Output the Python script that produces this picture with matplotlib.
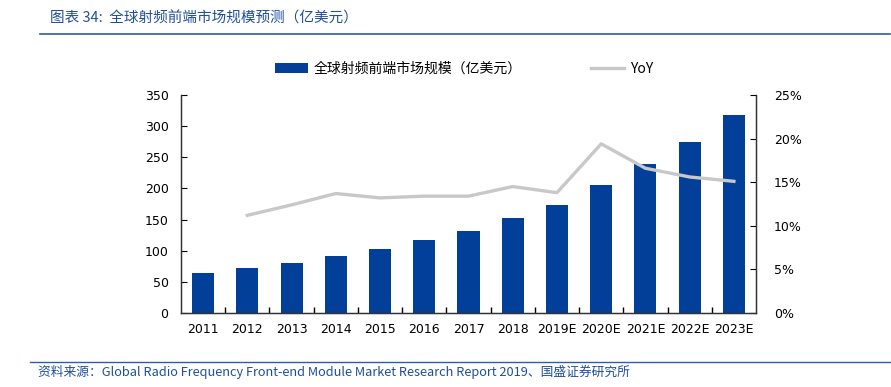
import matplotlib
matplotlib.use("Agg")
import matplotlib.pyplot as plt
from matplotlib.patches import Patch
from matplotlib.lines import Line2D
from matplotlib.ticker import FuncFormatter, MultipleLocator

plt.rcParams['font.family'] = ['DejaVu Sans', 'Noto Sans CJK SC']

years = ['2011', '2012', '2013', '2014', '2015', '2016', '2017', '2018',
         '2019E', '2020E', '2021E', '2022E', '2023E']
market = [65, 72.5, 80.5, 92, 103, 117, 132, 152, 173, 205.5, 239, 275, 318]
yoy = [None, 11.2, 12.4, 13.7, 13.2, 13.4, 13.4, 14.5, 13.8, 19.4, 16.6, 15.6, 15.1]

title = '图表 34:  全球射频前端市场规模预测（亿美元）'
source = '资料来源：Global Radio Frequency Front-end Module Market Research Report 2019、国盛证券研究所'
bar_label = '全球射频前端市场规模（亿美元）'
line_label = 'YoY'

W, H = 891, 387
fig = plt.figure(figsize=(W / 100, H / 100), dpi=100)

ax_l, ax_r, ax_t, ax_b = 181, 756, 95, 313
ax = fig.add_axes([ax_l / W, 1 - ax_b / H, (ax_r - ax_l) / W, (ax_b - ax_t) / H])

x = list(range(len(years)))
bar_color = '#023F98'
ax.bar(x, market, width=0.5, color=bar_color, zorder=2)
ax.set_xlim(-0.5, len(years) - 0.5)
ax.set_ylim(0, 350)
ax.yaxis.set_major_locator(MultipleLocator(50))
ax.set_xticks(x)
ax.set_xticklabels(years)
ax.set_xticks([i + 0.5 for i in x[:-1]], minor=True)
ax.tick_params(axis='x', which='major', length=0, pad=7, labelsize=9)
ax.tick_params(axis='x', which='minor', length=4, direction='in', width=1)
ax.tick_params(axis='y', length=4, direction='in', labelsize=9, pad=9)
ax.spines['top'].set_visible(False)
for s in ['left', 'right', 'bottom']:
    ax.spines[s].set_color('#333333')
    ax.spines[s].set_linewidth(1.0)

ax2 = ax.twinx()
xs = [i for i, v in zip(x, yoy) if v is not None]
ys = [v for v in yoy if v is not None]
ax2.plot(xs, ys, color='#C8C8C8', linewidth=2.4, zorder=3)
ax2.set_ylim(0, 25)
ax2.yaxis.set_major_locator(MultipleLocator(5))
ax2.yaxis.set_major_formatter(FuncFormatter(lambda v, p: f'{v:.0f}%'))
ax2.tick_params(axis='y', length=4, direction='in', labelsize=9, pad=13)
ax2.spines['top'].set_visible(False)
for s in ['left', 'right', 'bottom']:
    ax2.spines[s].set_color('#333333')

handles = [Patch(facecolor=bar_color, edgecolor='none'),
           Line2D([0], [0], color='#C8C8C8', linewidth=2.4)]
leg = fig.legend(handles, [bar_label, line_label], loc='center left',
                 bbox_to_anchor=(262 / W, 1 - 69 / H), ncol=2, frameon=False,
                 handlelength=2.4, handleheight=0.8, handletextpad=0.4,
                 columnspacing=5.0, prop={'family': ['Noto Sans CJK SC', 'DejaVu Sans'], 'size': 10})

blue = '#1F4E9E'
fig.text(50 / W, 1 - 18 / H, title, color=blue, fontsize=10.5, style='italic',
         family=['Noto Sans CJK SC', 'DejaVu Sans'], va='center', ha='left')
fig.add_artist(Line2D([40 / W, 890 / W], [1 - 34 / H, 1 - 34 / H], color='#2E5CA8', linewidth=1.2))
fig.add_artist(Line2D([30 / W, 890 / W], [1 - 362 / H, 1 - 362 / H], color='#2E5CA8', linewidth=1.0))
fig.text(38 / W, 1 - 372 / H, source, color=blue, fontsize=9.2, style='italic',
         family=['Noto Sans CJK SC', 'DejaVu Sans'], va='center', ha='left')

fig.savefig('out.png', dpi=100)
